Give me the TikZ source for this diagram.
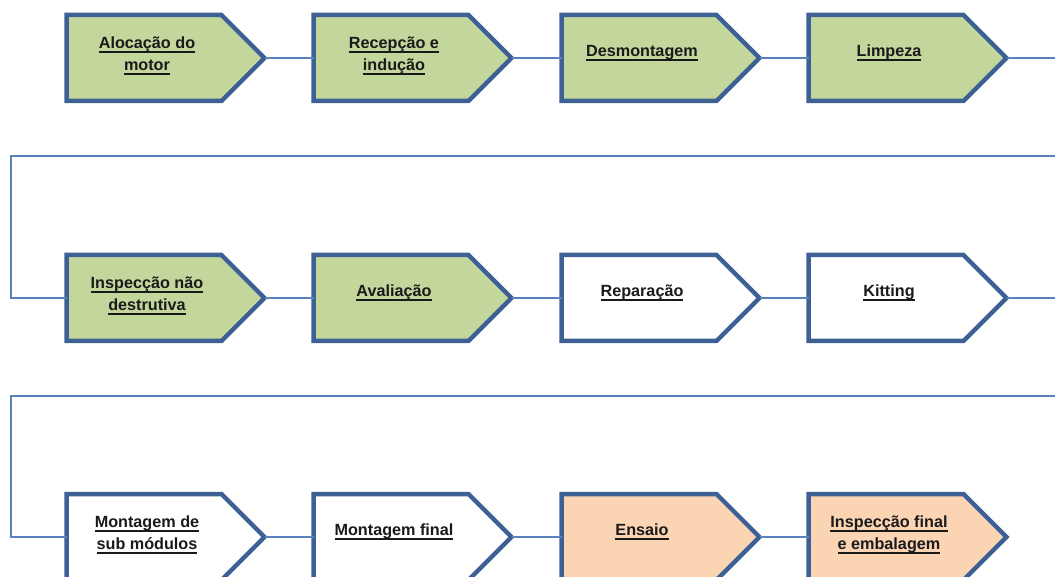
\documentclass[tikz,border=0pt]{standalone}
\usepackage{fontspec}
\setmainfont{Liberation Sans}
\usetikzlibrary{shapes.symbols}

\definecolor{stepgreen}{HTML}{C3D69B}
\definecolor{steporange}{HTML}{FBD4B4}
\definecolor{stepedge}{HTML}{3E6195}
\definecolor{linkblue}{HTML}{5A82BC}
\definecolor{labelink}{HTML}{1A1A1A}

\tikzset{
  stepbox/.style={signal, signal to=east, signal pointer angle=90,
    minimum width=198pt, minimum height=86pt, inner sep=0pt, outer sep=0pt,
    draw=stepedge, line width=4.5pt, fill=white},
  donebox/.style={stepbox, fill=stepgreen},
  testbox/.style={stepbox, fill=steporange},
  steplabel/.style={font=\bfseries\fontsize{16.2}{22}\selectfont, text=labelink,
    align=center, inner sep=0pt},
  link/.style={draw=linkblue, line width=1.8pt},
}
% underlined label line, rule at a fixed depth below the baseline
\newsavebox\ulabbox
\newcommand\ulab[1]{\sbox\ulabbox{#1}\rlap{\vrule width\wd\ulabbox height -2.4pt depth 4pt}\usebox\ulabbox}

\begin{document}
\begin{tikzpicture}[x=1pt, y=-1pt]
  \useasboundingbox (0,0) rectangle (1055,577);
  \clip (0,0) rectangle (1055,577);

  % free ends of the wrap-around connectors
  \coordinate (r1out) at (1056,58);
  \coordinate (r1back) at (1056,156);
  \coordinate (r1turn) at (11,156);
  \coordinate (r2out) at (1056,298);
  \coordinate (r2back) at (1056,396);
  \coordinate (r2turn) at (11,396);

  % row 1 (node centre = centre of the rectangular body)
  \node[donebox] (s1) at (144,58) {};
  \node[donebox] (s2) at (391,58) {};
  \node[donebox] (s3) at (639,58) {};
  \node[donebox] (s4) at (886,58) {};
  % row 2
  \node[donebox] (s5) at (144,298) {};
  \node[donebox] (s6) at (391,298) {};
  \node[stepbox] (s7) at (639,298) {};
  \node[stepbox] (s8) at (886,298) {};
  % row 3
  \node[stepbox] (s9) at (144,537) {};
  \node[stepbox] (s10) at (391,537) {};
  \node[testbox] (s11) at (639,537) {};
  \node[testbox] (s12) at (886,537) {};

  % connectors
  \draw[link] (s1.east) -- (s2.west);
  \draw[link] (s2.east) -- (s3.west);
  \draw[link] (s3.east) -- (s4.west);
  \draw[link] (s4.east) -- (r1out);
  \draw[link] (r1back) -- (r1turn) |- (s5.west);
  \draw[link] (s5.east) -- (s6.west);
  \draw[link] (s6.east) -- (s7.west);
  \draw[link] (s7.east) -- (s8.west);
  \draw[link] (s8.east) -- (r2out);
  \draw[link] (r2back) -- (r2turn) |- (s9.west);
  \draw[link] (s9.east) -- (s10.west);
  \draw[link] (s10.east) -- (s11.west);
  \draw[link] (s11.east) -- (s12.west);

  % labels, in the upper half of each step body
  \tikzset{twoline/.style={xshift=3pt,yshift=2pt}, oneline/.style={xshift=3pt,yshift=5pt}}
  \node[steplabel] (l1) at ([twoline]s1.center) {\ulab{Alocação do}\\\ulab{motor}};
  \node[steplabel] (l2) at ([twoline]s2.center) {\ulab{Recepção e}\\\ulab{indução}};
  \node[steplabel] (l3) at ([oneline]s3.center) {\ulab{Desmontagem}};
  \node[steplabel] (l4) at ([oneline]s4.center) {\ulab{Limpeza}};
  \node[steplabel] (l5) at ([twoline]s5.center) {\ulab{Inspecção não}\\\ulab{destrutiva}};
  \node[steplabel] (l6) at ([oneline]s6.center) {\ulab{Avaliação}};
  \node[steplabel] (l7) at ([oneline]s7.center) {\ulab{Reparação}};
  \node[steplabel] (l8) at ([oneline]s8.center) {\ulab{Kitting}};
  \node[steplabel] (l9) at ([twoline]s9.center) {\ulab{Montagem de}\\\ulab{sub módulos}};
  \node[steplabel] (l10) at ([oneline]s10.center) {\ulab{Montagem final}};
  \node[steplabel] (l11) at ([oneline]s11.center) {\ulab{Ensaio}};
  \node[steplabel] (l12) at ([twoline]s12.center) {\ulab{Inspecção final}\\\ulab{e embalagem}};
\end{tikzpicture}
\end{document}
